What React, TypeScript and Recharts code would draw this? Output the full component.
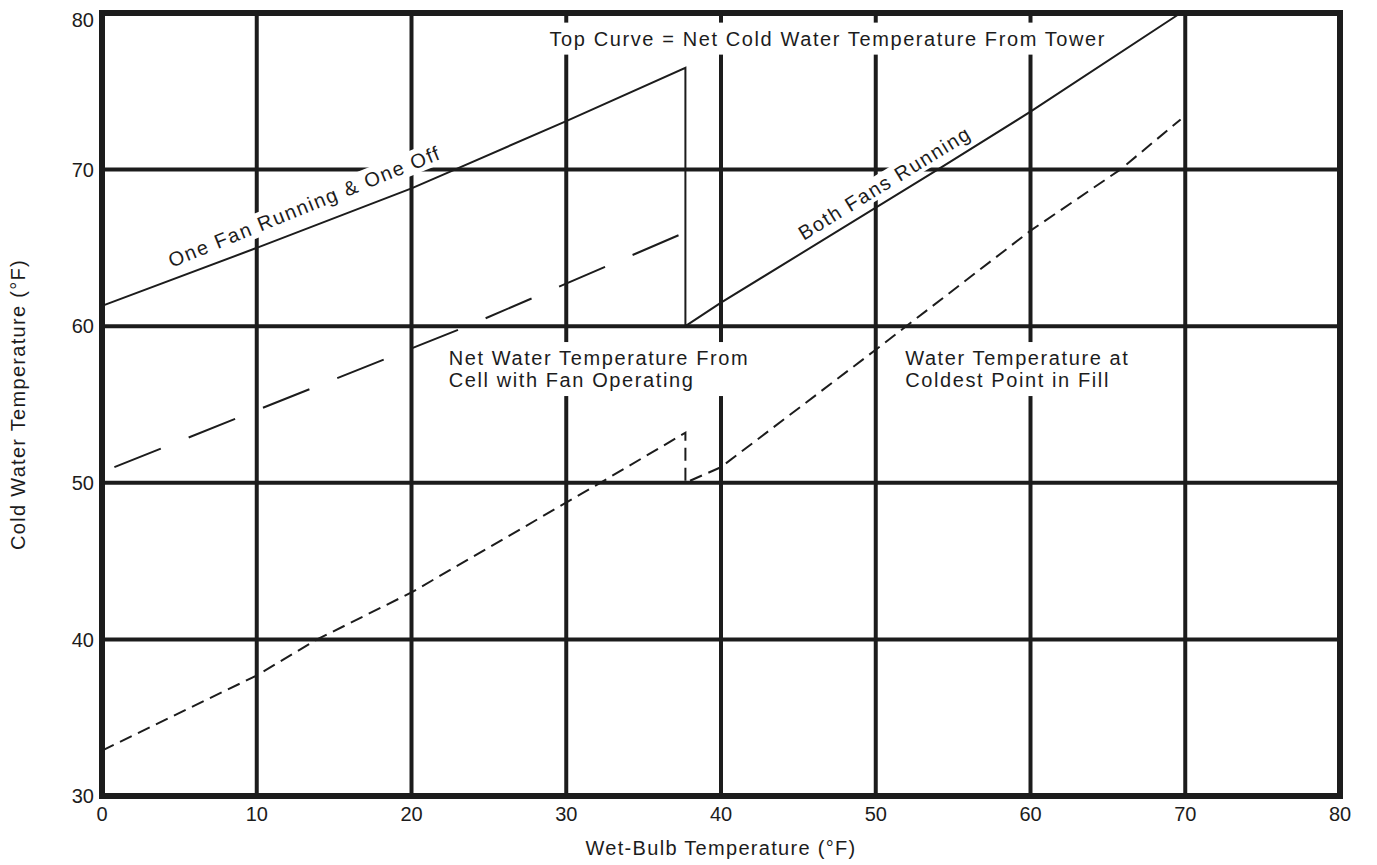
import React from 'react'
import { LineChart, Line, XAxis, YAxis, CartesianGrid, ReferenceArea, ReferenceDot } from 'recharts'

// top curve: one fan running & one off, then drop, then both fans running
const topCurveX = [0, 10, 20, 22.8, 30, 37.7, 37.7, 40, 54, 60, 69.7]
const topCurveY = [61.3, 65.0, 68.8, 70, 73.1, 76.5, 60, 61.5, 70, 73.7, 80]

// net water temperature from cell with fan operating
const cellFanX = [0.8, 23.6, 37.7]
const cellFanY = [51.0, 60.0, 66.0]

// water temperature at coldest point in fill
const coldestX = [0, 10, 13.9, 20, 32.2, 37.7, 37.7, 40, 50, 60, 65.8, 69.7]
const coldestY = [32.9, 37.7, 40, 43.0, 50, 53.2, 50, 51.0, 58.5, 66.1, 70, 73.2]

const xTicks = [0, 10, 20, 30, 40, 50, 60, 70, 80]
const yTicks = [30, 40, 50, 60, 70, 80]

const toRows = (xs: number[], ys: number[]) => xs.map((x, i) => ({ x, y: ys[i] }))

const ink = '#1c1c1c'
const font = '"Liberation Sans", Arial, Helvetica, sans-serif'

// text with a white patch behind it, placed at a data point
function Note({ cx, cy, lines, width, angle = 0, anchor = 'middle', size = 20, padY = 4 }: any) {
    const lineH = size * 1.1
    const top = -(lines.length * lineH) / 2
    const rx = anchor === 'middle' ? -width / 2 - 4 : -4
    return (
        <g transform={`translate(${cx},${cy}) rotate(${angle})`}>
            <rect x={rx} y={top - padY} width={width + 8} height={lines.length * lineH + padY * 2 - 2} fill="#fff" />
            {lines.map((t: string, i: number) => (
                <text
                    key={i}
                    x={0}
                    y={top + lineH * i + size * 0.86}
                    textAnchor={anchor}
                    fontSize={size}
                    fontFamily={font}
                    fill={ink}
                    letterSpacing={1.6}
                >
                    {t}
                </text>
            ))}
        </g>
    )
}

const XTitle = ({ viewBox }: any) => (
    <text x={viewBox.x + viewBox.width / 2} y={viewBox.y + viewBox.height + 19} textAnchor="middle"
        fontSize={20} fontFamily={font} fill={ink} letterSpacing={1.3}>
        Wet-Bulb Temperature (°F)
    </text>
)

const YTitle = ({ viewBox }: any) => {
    const cx = 10
    const cy = viewBox.y + viewBox.height / 2
    return (
        <text x={cx} y={cy} transform={`rotate(-90, ${cx}, ${cy})`} textAnchor="middle" dominantBaseline="central"
            fontSize={20} fontFamily={font} fill={ink} letterSpacing={1.3}>
            Cold Water Temperature (°F)
        </text>
    )
}

export default function App() {
    const tick = { fill: ink, fontSize: 20, fontFamily: font }
    return (
        <div style={{ width: 1369, height: 857, background: '#fff' }}>
            <LineChart width={1369} height={857} margin={{ top: 5, right: 37, bottom: 29, left: 0 }}>
                <CartesianGrid stroke={ink} strokeWidth={4} />
                <XAxis
                    type="number"
                    dataKey="x"
                    domain={[0, 80]}
                    ticks={xTicks}
                    tick={tick}
                    tickLine={false}
                    axisLine={false}
                    tickMargin={5}
                    height={40}
                    label={<XTitle />}
                />
                <YAxis
                    type="number"
                    dataKey="y"
                    domain={[30, 80]}
                    ticks={yTicks}
                    tick={tick}
                    tickLine={false}
                    axisLine={false}
                    width={94}
                    label={<YTitle />}
                />
                <ReferenceArea x1={0} x2={80} y1={30} y2={80} fill="none" stroke={ink} strokeWidth={6} />

                <ReferenceDot x={46.9} y={78.3} r={0} shape={(p: any) => (
                    <Note cx={p.cx} cy={p.cy} width={554} padY={6} lines={['Top Curve  =  Net Cold Water Temperature From Tower']} />
                )} />
                <ReferenceDot x={13.1} y={67.6} r={0} shape={(p: any) => (
                    <Note cx={p.cx} cy={p.cy} width={282} angle={-22} padY={2} lines={['One Fan Running & One Off']} />
                )} />
                <ReferenceDot x={50.6} y={69.1} r={0} shape={(p: any) => (
                    <Note cx={p.cx} cy={p.cy} width={190} angle={-31.5} padY={1} lines={['Both Fans Running']} />
                )} />
                <ReferenceDot x={22.4} y={57.2} r={0} shape={(p: any) => (
                    <Note cx={p.cx} cy={p.cy} width={304} anchor="start" padY={6} lines={['Net Water Temperature From', 'Cell with Fan Operating']} />
                )} />
                <ReferenceDot x={51.9} y={57.2} r={0} shape={(p: any) => (
                    <Note cx={p.cx} cy={p.cy} width={230} anchor="start" padY={6} lines={['Water Temperature at', 'Coldest Point in Fill']} />
                )} />

                <Line data={toRows(topCurveX, topCurveY)} dataKey="y" stroke={ink} strokeWidth={2} dot={false}
                    type="linear" isAnimationActive={false} />
                <Line data={toRows(cellFanX, cellFanY)} dataKey="y" stroke={ink} strokeWidth={2} dot={false}
                    strokeDasharray="50 30" type="linear" isAnimationActive={false} />
                <Line data={toRows(coldestX, coldestY)} dataKey="y" stroke={ink} strokeWidth={2} dot={false}
                    strokeDasharray="13 7" type="linear" isAnimationActive={false} />
            </LineChart>
        </div>
    )
}
